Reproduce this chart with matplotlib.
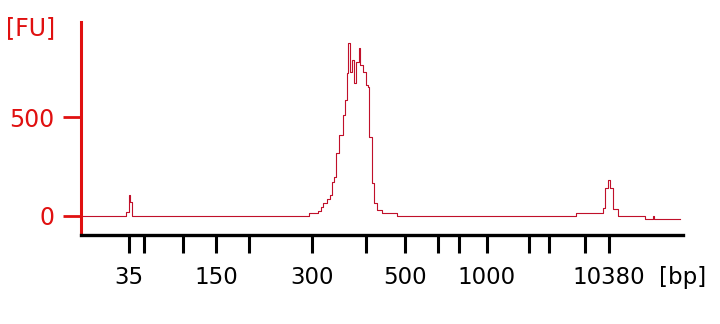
"""Electropherogram trace (Bioanalyzer style)."""

import numpy as np
import matplotlib
import matplotlib.pyplot as plt

matplotlib.use("Agg")

# migration time (s) where the trace steps to a new level, and level in FU
trace_time = [40.0, 44.55, 44.8, 44.87, 45.1, 62.8, 63.7, 64.0, 64.2, 64.6,
              64.9, 65.1, 65.3, 65.5, 65.8, 66.2, 66.4, 66.6, 66.7, 66.95,
              67.1, 67.3, 67.5, 67.85, 67.95, 68.2, 68.55, 68.7, 68.85, 69.1,
              69.35, 69.6, 70.1, 71.6, 89.5, 92.2, 92.45, 92.75, 92.95, 93.2,
              93.7, 96.4, 97.25, 97.33, 99.9]
trace_fu = [0, 18, 106, 72, 0, 17, 27, 45, 66, 86,
            106, 171, 197, 318, 409, 510, 585, 721, 872, 726,
            786, 670, 776, 847, 761, 726, 660, 650, 398, 166,
            66, 30, 15, 0, 17, 40, 141, 182, 141, 35,
            0, -15, 0, -15, -15]

# ladder sizes (bp) and their migration times
ladder_bp = [35, 50, 100, 150, 200, 300, 400, 500, 600, 700, 1000, 2000,
             3000, 7000, 10380]
ladder_time = [44.8, 46.3, 50.2, 53.5, 56.8, 63.1, 68.5, 72.4, 75.7, 77.8,
               80.6, 84.8, 86.8, 90.4, 92.8]
labelled_bp = [35, 150, 300, 500, 1000, 10380]

y_ticks = [0, 500]

RED = "#e01010"
TRACE = "#c0102a"

fig = plt.figure(figsize=(7.2, 3.24), dpi=100)
ax = fig.add_axes([0.1125, 0.2747, 0.8361, 0.6573])

ax.step(trace_time, trace_fu, where="post", color=TRACE, linewidth=0.8)

ax.set_xlim(40.0, 100.2)
ax.set_ylim(-96, 980)

ax.set_xticks(ladder_time)
ax.set_xticklabels([str(b) if b in labelled_bp else "" for b in ladder_bp])
ax.set_yticks(y_ticks)
ax.set_yticklabels([str(v) for v in y_ticks])

ax.spines["top"].set_visible(False)
ax.spines["right"].set_visible(False)
ax.spines["left"].set_color(RED)
ax.spines["left"].set_linewidth(2.2)
ax.spines["bottom"].set_color("black")
ax.spines["bottom"].set_linewidth(2.4)

ax.tick_params(axis="x", direction="out", length=13, width=2.2,
               color="black", labelsize=16.5, pad=9.5, labelcolor="black")
ax.tick_params(axis="y", direction="out", length=13, width=2.0,
               color=RED, labelsize=17, pad=6, labelcolor=RED)

ax.text(1.0, -0.2, "[bp]", transform=ax.transAxes, ha="center",
        va="center", fontsize=16.5, color="black")
fig.text(0.042, 0.914, "[FU]", ha="center", va="center", fontsize=17,
         color=RED)

fig.savefig("out.png", dpi=100)
plt.close(fig)
